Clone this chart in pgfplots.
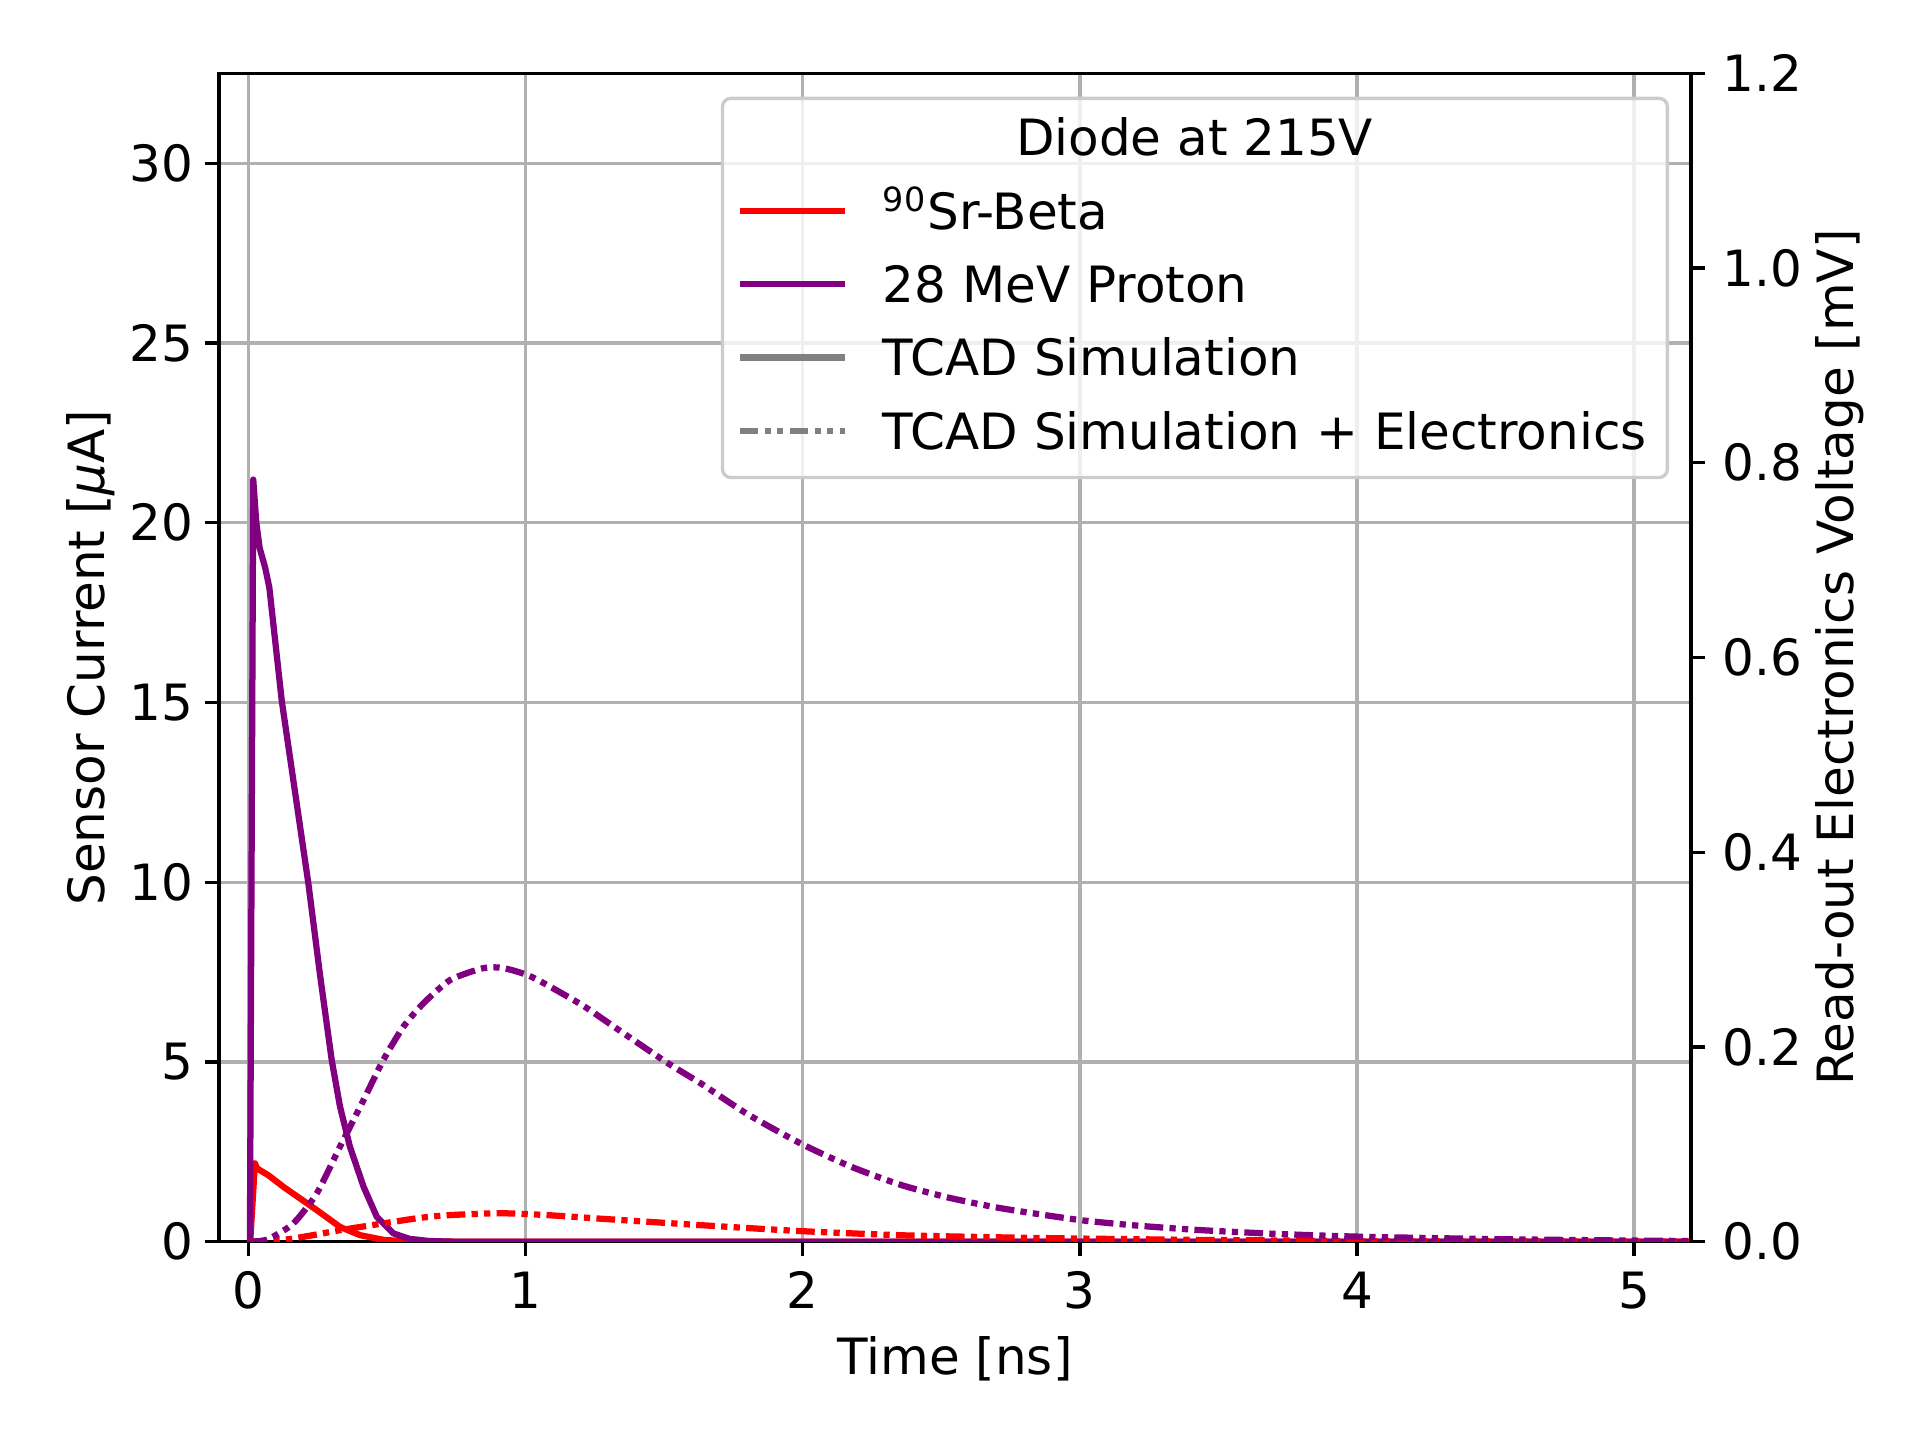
\documentclass[border=0pt,12pt]{standalone}
\usepackage{fontspec}
\setmainfont{DejaVu Sans}
\usepackage{pgfplots}
\pgfplotsset{compat=1.18}
\definecolor{mpred}{HTML}{FF0000}
\definecolor{mppurple}{HTML}{800080}
\definecolor{mpgray}{HTML}{808080}
\definecolor{gridgray}{HTML}{B0B0B0}
\definecolor{legedge}{HTML}{CCCCCC}
\tikzset{ddd/.style={dash pattern=on 4.5pt off 1.5pt on 1.5pt off 1.5pt on 1.5pt off 1.5pt}}
\pgfplotsset{
  myaxis/.style={
    scale only axis, width=353.2pt, height=280.4pt,
    at={(0,0)}, anchor=south west,
    xmin=-0.106, xmax=5.205,
    tick align=outside, major tick length=3.5pt,
    tick style={black, line width=0.8pt},
    axis line style={line width=0.8pt},
    /pgf/number format/assume math mode=true,
  }
}
\pgfplotstableread{
x y
0 0
0.006 0
0.023 2.18
0.03 2.05
0.041 1.99
0.071 1.85
0.125 1.53
0.246 0.88
0.33 0.41
0.403 0.18
0.487 0.05
0.56 0.015
0.65 0.003
0.8 0
5.2 0
}\redsolid
\pgfplotstableread{
x y
0 0
0.005 0
0.017 21.2
0.028 20.0
0.04 19.3
0.06 18.75
0.075 18.2
0.12 15.04
0.168 12.5
0.216 9.96
0.258 7.42
0.30 5.06
0.330 3.76
0.366 2.64
0.415 1.53
0.463 0.69
0.523 0.23
0.58 0.08
0.65 0.02
0.73 0.0
5.2 0
}\purplesolid
\pgfplotstableread{
x y
0 0
0.04 0.0006
0.077 0.0033
0.162 0.0188
0.246 0.0495
0.330 0.0975
0.415 0.1455
0.487 0.1869
0.559 0.2208
0.631 0.2448
0.728 0.2688
0.848 0.2810
0.92 0.2810
1.005 0.2740
1.077 0.2637
1.21 0.2419
1.33 0.2186
1.51 0.1839
1.63 0.1629
1.8 0.1311
1.99 0.1012
2.17 0.0775
2.354 0.0583
2.53 0.0450
2.716 0.0343
3.0 0.0222
3.22 0.0162
3.44 0.0118
3.7 0.0081
4.0 0.0052
4.5 0.0026
5.0 0.0011
5.2 0.0007
}\purpledash
\pgfplotstableread{
x y
0 0
0.125 0.0018
0.247 0.0074
0.33 0.0118
0.487 0.0188
0.62 0.0245
0.728 0.0273
0.908 0.0292
1.077 0.0273
1.27 0.0236
1.63 0.0170
1.99 0.0109
2.354 0.0066
2.7 0.0045
3.0 0.0032
3.44 0.0018
4.0 0.0008
4.5 0.0004
5.2 0.0002
}\reddash
\begin{document}
\begin{tikzpicture}
\useasboundingbox (-52.6pt,-47.6pt) rectangle (408.2pt,298pt);
\begin{axis}[myaxis,
  ymin=0, ymax=32.5,
  xtick={0,1,2,3,4,5}, ytick={0,5,10,15,20,25,30},
  xtick pos=left, ytick pos=left,
  grid=major, grid style={gridgray, line width=0.8pt},
  yticklabel style={xshift=1.5pt},
  xticklabel style={yshift=0.5pt},
  xlabel={Time [ns]}, xlabel shift=-1.8pt,
  ylabel={Sensor Current [\textit{μ}A]}, ylabel shift=-4.7pt,
]
\addplot[mpred, line width=1.5pt, line join=round] table {\redsolid};
\addplot[mppurple, line width=1.5pt, line join=round] table {\purplesolid};
\end{axis}
\begin{axis}[myaxis,
  ymin=0, ymax=1.2,
  axis x line=none, axis y line*=right,
  y axis line style={-},
  ytick={0,0.2,0.4,0.6,0.8,1.0,1.2},
  yticklabel style={/pgf/number format/.cd, fixed, fixed zerofill, precision=1},
  ylabel near ticks,
  ylabel={Read-out Electronics Voltage [mV]}, ylabel shift=-5pt,
  legend image code/.code={\draw[#1] (0pt,4.4pt) -- (25.3pt,4.4pt);},
  legend style={at={(rel axis cs:0.9852,0.980)}, anchor=north east,
    draw=legedge, line width=0.8pt, fill=white, fill opacity=0.8, text opacity=1, draw opacity=1,
    rounded corners=2pt, inner xsep=3.35pt, inner ysep=3pt,
    column sep=6.7pt, row sep=3pt,
    cells={anchor=base west},
    nodes={inner ysep=0pt, inner xsep=1.65pt, text height=10.8pt, text depth=3.8pt}},
]
\addlegendimage{empty legend}
\addlegendentry{\hspace*{74.8pt}\makebox[0pt][c]{Diode at 215V}}
\addlegendimage{mpred, line width=1.5pt}
\addlegendentry{\textsuperscript{90}Sr-Beta}
\addlegendimage{mppurple, line width=1.5pt}
\addlegendentry{28 MeV Proton}
\addlegendimage{mpgray, line width=1.5pt}
\addlegendentry{TCAD Simulation}
\addlegendimage{mpgray, line width=1.5pt, ddd}
\addlegendentry{TCAD Simulation + Electronics}
\addplot[mpred, line width=1.5pt, ddd, smooth, tension=0.4, line join=round, forget plot] table {\reddash};
\addplot[mppurple, line width=1.5pt, ddd, smooth, tension=0.4, line join=round, forget plot] table {\purpledash};
\end{axis}
\end{tikzpicture}
\end{document}
